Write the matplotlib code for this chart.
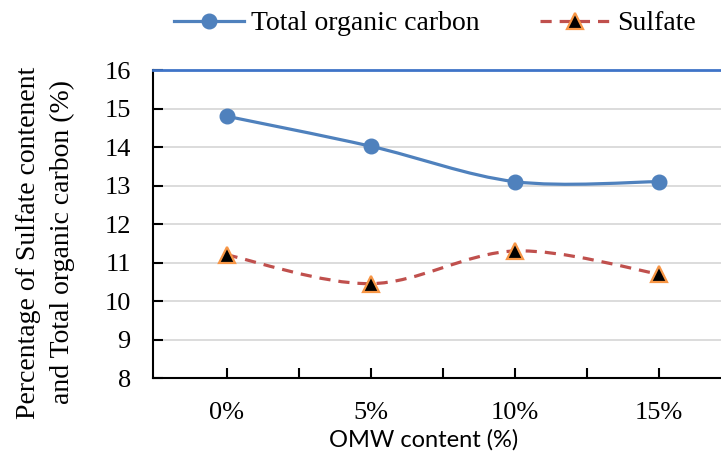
import matplotlib
matplotlib.use("Agg")
import matplotlib.pyplot as plt
from matplotlib.path import Path
from matplotlib.patches import PathPatch
from matplotlib.lines import Line2D

# --- data ---
categories = ["0%", "5%", "10%", "15%"]
toc = [14.8, 14.02, 13.1, 13.1]
sulfate = [11.2, 10.45, 11.3, 10.7]

BLUE = "#4F81BD"
RED = "#C0504D"
ORANGE = "#F79646"


def smooth_path(xs, ys):
    # Excel-like smoothed line (Catmull-Rom as cubic Bezier)
    pts = list(zip(xs, ys))
    n = len(pts)
    verts = [pts[0]]
    codes = [Path.MOVETO]
    for i in range(n - 1):
        p0 = pts[i - 1] if i > 0 else pts[i]
        p1 = pts[i]
        p2 = pts[i + 1]
        p3 = pts[i + 2] if i + 2 < n else pts[i + 1]
        c1 = (p1[0] + (p2[0] - p0[0]) / 6, p1[1] + (p2[1] - p0[1]) / 6)
        c2 = (p2[0] - (p3[0] - p1[0]) / 6, p2[1] - (p3[1] - p1[1]) / 6)
        verts += [c1, c2, p2]
        codes += [Path.CURVE4] * 3
    return Path(verts, codes)


SERIF = ["Liberation Serif", "DejaVu Serif"]
plt.rcParams["font.family"] = SERIF

fig = plt.figure(figsize=(7.21, 4.54), dpi=100)
ax = fig.add_axes([0.2122, 0.1674, 0.7878, 0.6784])

x = list(range(len(categories)))

ax.add_patch(PathPatch(smooth_path(x, toc), fill=False, edgecolor=BLUE,
                       lw=2.3, zorder=3, capstyle="round"))
ax.add_patch(PathPatch(smooth_path(x, sulfate), fill=False, edgecolor=RED,
                       lw=2.3, linestyle=(0, (3.5, 2.5)), zorder=3))

ax.plot(x, toc, ls="none", marker="o", ms=10.5, color=BLUE, zorder=4)
ax.plot(x, sulfate, ls="none", marker="^", ms=11, markerfacecolor="black",
        markeredgecolor=ORANGE, markeredgewidth=1.6, zorder=4)

ax.set_xlim(-0.51, 3.43)
ax.set_ylim(8, 16)
ax.set_yticks(range(8, 17))
ax.set_xticks(x)
ax.set_xticklabels(categories)
ax.set_xticks([0.5, 1.5, 2.5], minor=True)

ax.yaxis.grid(True, color="#D9D9D9", lw=1.3)
ax.set_axisbelow(True)

ax.spines["right"].set_visible(False)
ax.spines["top"].set_color("#3F74C8")
ax.spines["top"].set_linewidth(2)
ax.spines["left"].set_linewidth(1.5)
ax.spines["bottom"].set_linewidth(1.5)

ax.tick_params(axis="both", which="both", direction="in", length=7,
               width=1.5, labelsize=19, labelfontfamily="Liberation Serif")
ax.tick_params(axis="x", pad=17)
ax.tick_params(axis="y", pad=16)

ax.set_ylabel("Percentage of Sulfate contenent\nand Total organic carbon (%)",
              fontsize=20, linespacing=1.45, multialignment="center",
              family=SERIF)
ax.yaxis.set_label_coords(-0.137, 0.44)
ax.set_xlabel("OMW content (%)", fontsize=17, family="Lato")
ax.xaxis.set_label_coords(0.477, -0.165)

handles = [
    Line2D([], [], color=BLUE, lw=2.3, marker="o", ms=10.5),
    Line2D([], [], color=RED, lw=2.3, linestyle=(0, (3.5, 2.5)), marker="^",
           ms=11, markerfacecolor="black", markeredgecolor=ORANGE,
           markeredgewidth=1.6),
]
fig.legend(handles, ["Total organic carbon", "Sulfate"], ncol=2,
           loc="center", bbox_to_anchor=(0.603, 0.948), frameon=False,
           fontsize=20, handlelength=2.5, handletextpad=0.25,
           columnspacing=2.2, borderpad=0)

fig.savefig("out.png", dpi=100)
